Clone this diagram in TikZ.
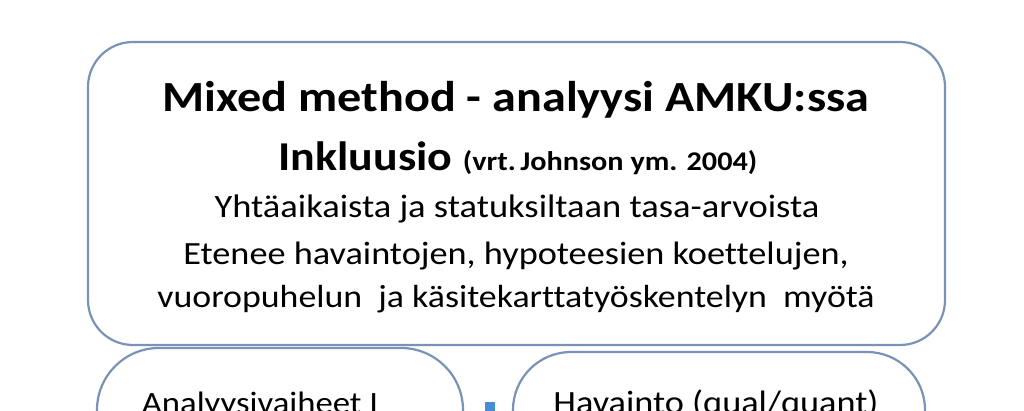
\documentclass[tikz,border=0pt]{standalone}
\usepackage{fontspec}
\usepackage{tikz}
\setmainfont{Carlito}[FakeStretch=1.12, Ligatures=NoCommon]
\definecolor{boxline}{RGB}{122,146,182}
\definecolor{markblue}{RGB}{70,140,215}

\begin{document}
\begin{tikzpicture}[x=1pt,y=-1pt]
        \useasboundingbox (0,0) rectangle (1024,411);
        \clip (0,0) rectangle (1024,411);
        \draw [boxline, line width=2.2pt, rounded corners=45pt] (88,42) rectangle (945,345);
        \draw [boxline, line width=2.2pt, rounded corners=62pt] (97,348) rectangle (463,480);
        \draw [boxline, line width=2.2pt, rounded corners=58pt] (513,352) rectangle (925,480);
        \fill [markblue] (485,402) rectangle (495,411);
        \node [anchor=base] (title) at (516,112) {\fontsize{43}{48}\selectfont\bfseries Mixed method - analyysi AMKU:ssa};
        \node [anchor=base] (inkl) at (518,171) {\fontsize{41}{48}\selectfont\bfseries Inkluusio \fontsize{27}{30}\selectfont (vrt.\,Johnson ym. 2004)};
        \node [anchor=base] (yht) at (517,218) {\fontsize{32.6}{36}\selectfont Yhtäaikaista ja statuksiltaan tasa-arvoista};
        \node [anchor=base] (etenee) at (516,265) {\fontsize{32.4}{36}\selectfont Etenee havaintojen, hypoteesien koettelujen,};
        \node [anchor=base] (vuoro) at (516,307) {\fontsize{32}{36}\selectfont vuoropuhelun\ \ ja käsitekarttatyöskentelyn\ \ myötä};
        \node [anchor=base] (analyysi) at (260,413) {\fontsize{31}{36}\selectfont Analyysivaiheet I};
        \node [anchor=base] (havainto) at (716,413) {\fontsize{32.4}{36}\selectfont Havainto (qual/quant)};
\end{tikzpicture}
\end{document}
